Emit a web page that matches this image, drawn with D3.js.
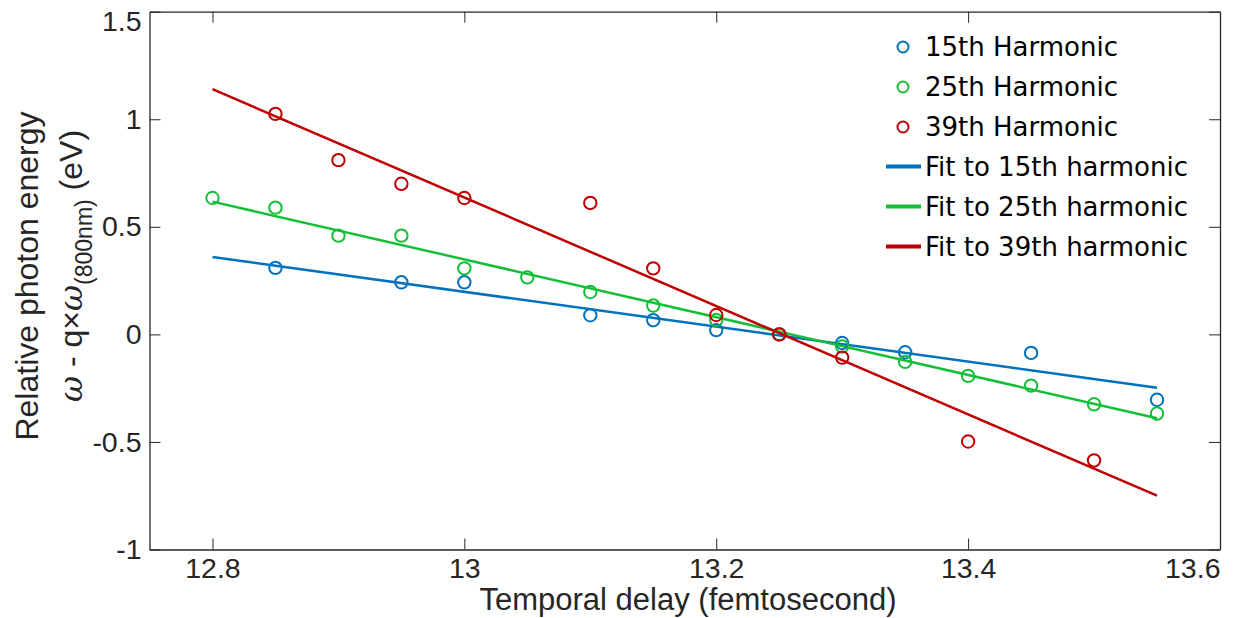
<!DOCTYPE html>
<html>
<head>
<meta charset="utf-8">
<script src="https://cdn.jsdelivr.net/npm/d3@7"></script>
<style>
  html, body { margin: 0; padding: 0; background: #fff; }
  svg { display: block; }
</style>
</head>
<body>
<svg id="chart" width="1235" height="618"></svg>
<script>
// Measured delays (fs) and relative photon energies (eV) per harmonic
const delay15 = [12.85, 12.95, 13.0, 13.1, 13.15, 13.2, 13.25, 13.3, 13.35, 13.45, 13.55];
const energy15 = [0.309, 0.242, 0.242, 0.089, 0.066, 0.020, 0.0, -0.040, -0.083, -0.086, -0.304];

const delay25 = [12.8, 12.85, 12.9, 12.95, 13.0, 13.05, 13.1, 13.15, 13.2, 13.25, 13.3, 13.35, 13.4, 13.45, 13.5, 13.55];
const energy25 = [0.634, 0.589, 0.459, 0.459, 0.307, 0.265, 0.197, 0.134, 0.067, 0.0, -0.056, -0.128, -0.193, -0.238, -0.325, -0.368];

const delay39 = [12.85, 12.9, 12.95, 13.0, 13.1, 13.15, 13.2, 13.25, 13.3, 13.4, 13.5];
const energy39 = [1.025, 0.810, 0.700, 0.634, 0.611, 0.307, 0.090, 0.0, -0.108, -0.498, -0.586];

// Linear fits, evaluated at the ends of the delay range
const fitDelay = [12.8, 13.55];
const fit15 = [0.360, -0.248];
const fit25 = [0.617, -0.390];
const fit39 = [1.140, -0.750];

const xTicks = [12.8, 13.0, 13.2, 13.4, 13.6];
const yTicks = [-1, -0.5, 0, 0.5, 1, 1.5];

const seriesNames = ["15th Harmonic", "25th Harmonic", "39th Harmonic"];
const fitNames = ["Fit to 15th harmonic", "Fit to 25th harmonic", "Fit to 39th harmonic"];
const colors = ["#0072bd", "#14bf38", "#c00000"];

const svg = d3.select("#chart");
const plotLeft = 149.5, plotRight = 1220, plotTop = 11.7, plotBottom = 549.5;

const x = d3.scaleLinear().domain([12.75, 13.6]).range([plotLeft, plotRight]);
const y = d3.scaleLinear().domain([-1, 1.5]).range([plotBottom, plotTop]);

const axisColor = "#262626";
const tickFont = "'Liberation Sans', Arial, sans-serif";
const fmt = d => String(d);

// Box and ticks: ticks point inward on all four sides
const axG = svg.append("g");
const tickLen = 11;

const bottomAxis = axG.append("g")
  .attr("transform", `translate(0,${plotBottom})`)
  .call(d3.axisBottom(x).tickValues(xTicks).tickSizeInner(-tickLen).tickSizeOuter(0)
    .tickFormat(fmt).tickPadding(8));
axG.append("g")
  .attr("transform", `translate(0,${plotTop})`)
  .call(d3.axisTop(x).tickValues(xTicks).tickSizeInner(-tickLen).tickSizeOuter(0).tickFormat(""));
const leftAxis = axG.append("g")
  .attr("transform", `translate(${plotLeft},0)`)
  .call(d3.axisLeft(y).tickValues(yTicks).tickSizeInner(-tickLen).tickSizeOuter(0)
    .tickFormat(fmt).tickPadding(8));
axG.append("g")
  .attr("transform", `translate(${plotRight},0)`)
  .call(d3.axisRight(y).tickValues(yTicks).tickSizeInner(-tickLen).tickSizeOuter(0).tickFormat(""));

axG.selectAll(".domain").attr("stroke", axisColor).attr("stroke-width", 1.3);
axG.selectAll(".tick line").attr("stroke", axisColor).attr("stroke-width", 1);
axG.selectAll(".tick text")
  .attr("fill", "#262626")
  .style("font-family", tickFont)
  .style("font-size", "28.5px");

// end labels are kept inside the figure edges
bottomAxis.selectAll(".tick text").filter(d => d === 13.6).attr("text-anchor", "end");
leftAxis.selectAll(".tick text").filter(d => d === 1.5).attr("y", 10);

// Fit lines
const fitData = [fit15, fit25, fit39];
const line = d3.line().x(d => x(d[0])).y(d => y(d[1]));
fitData.forEach((f, i) => {
  svg.append("path")
    .datum(fitDelay.map((d, j) => [d, f[j]]))
    .attr("d", line)
    .attr("fill", "none")
    .attr("stroke", colors[i])
    .attr("stroke-width", 2.5);
});

// Data markers
const pointSets = [
  delay15.map((d, i) => [d, energy15[i]]),
  delay25.map((d, i) => [d, energy25[i]]),
  delay39.map((d, i) => [d, energy39[i]])
];
pointSets.forEach((pts, i) => {
  svg.append("g").selectAll("circle")
    .data(pts)
    .join("circle")
    .attr("cx", d => x(d[0]))
    .attr("cy", d => y(d[1]))
    .attr("r", 6.2)
    .attr("fill", "none")
    .attr("stroke", colors[i])
    .attr("stroke-width", 2);
});

// Legend
const legendFont = "'DejaVu Sans', Verdana, sans-serif";
const leg = svg.append("g");
const rowY = i => 47 + i * 40;
seriesNames.forEach((name, i) => {
  leg.append("circle").attr("cx", 903).attr("cy", rowY(i)).attr("r", 5.5)
    .attr("fill", "none").attr("stroke", colors[i]).attr("stroke-width", 2);
  leg.append("text").attr("x", 925).attr("y", rowY(i) + 9).text(name)
    .style("font-family", legendFont).style("font-size", "26px").attr("fill", "#000");
});
fitNames.forEach((name, i) => {
  const yy = rowY(i + 3) - 0.5;
  leg.append("line").attr("x1", 886).attr("x2", 921).attr("y1", yy).attr("y2", yy)
    .attr("stroke", colors[i]).attr("stroke-width", 4);
  leg.append("text").attr("x", 925).attr("y", yy + 9).text(name)
    .style("font-family", legendFont).style("font-size", "26px").attr("fill", "#000");
});

// Axis titles
svg.append("text")
  .attr("x", 688).attr("y", 610)
  .attr("text-anchor", "middle")
  .style("font-family", tickFont).style("font-size", "31px").attr("fill", "#262626")
  .text("Temporal delay (femtosecond)");

svg.append("text")
  .attr("transform", "translate(38,276) rotate(-90)")
  .attr("text-anchor", "middle")
  .style("font-family", tickFont).style("font-size", "32px").attr("fill", "#262626")
  .text("Relative photon energy");

const ylab2 = svg.append("text")
  .attr("transform", "translate(82,266) rotate(-90)")
  .attr("text-anchor", "middle")
  .style("font-family", tickFont).style("font-size", "32px").attr("fill", "#262626");
ylab2.append("tspan").style("font-style", "italic").style("font-family", "'DejaVu Serif', serif").text("ω");
ylab2.append("tspan").text(" - q×");
ylab2.append("tspan").style("font-style", "italic").style("font-family", "'DejaVu Serif', serif").text("ω");
ylab2.append("tspan").attr("dy", 10).style("font-size", "23px").text("(800nm)");
ylab2.append("tspan").attr("dy", -10).text(" (eV)");
</script>
</body>
</html>
